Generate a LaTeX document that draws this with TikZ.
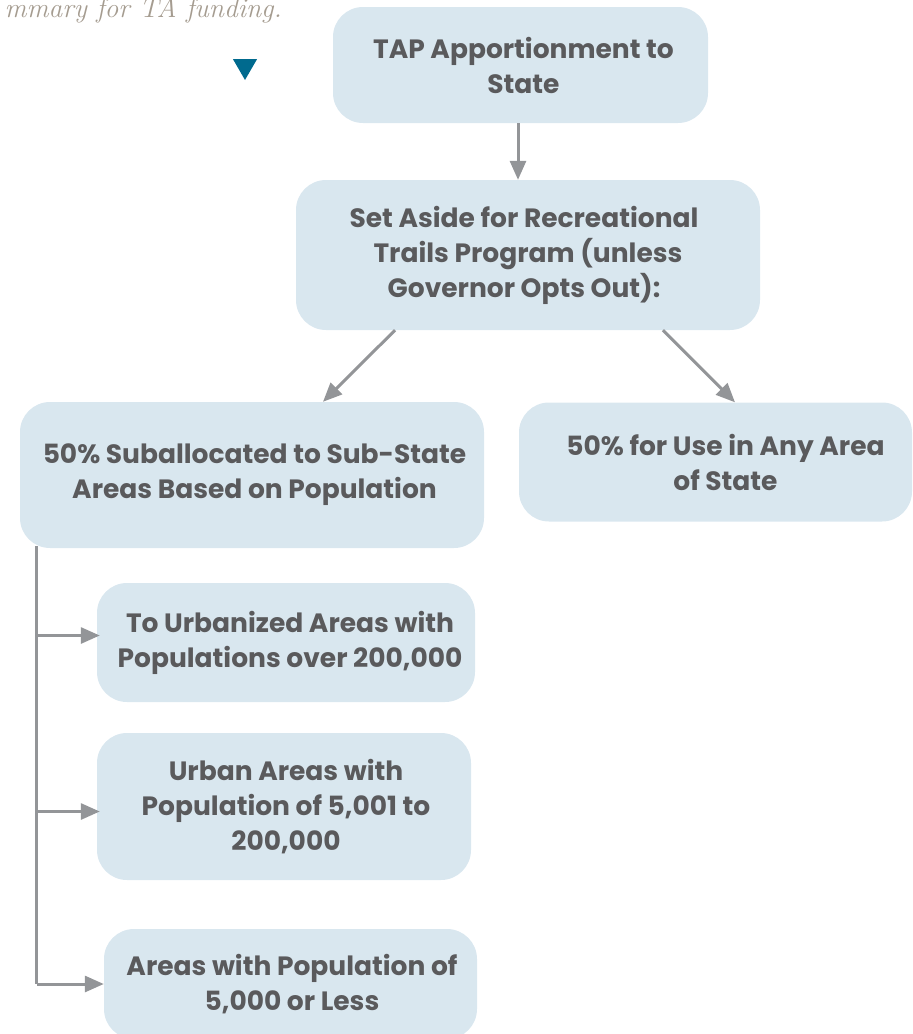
\documentclass[tikz,border=0pt]{standalone}
\usepackage{fontspec}
\setmainfont{Poppins}
\newfontfamily\titlefont{Latin Modern Roman}
\usetikzlibrary{arrows.meta,shapes.geometric}
\definecolor{boxfill}{HTML}{D9E7EF}
\definecolor{txt}{HTML}{5A5A5C}
\definecolor{arrgray}{HTML}{939598}
\definecolor{tri}{HTML}{006A8E}
\definecolor{titlegray}{HTML}{A59C90}
\begin{document}
\begin{tikzpicture}[x=1pt,y=-1pt,
  box/.style={fill=boxfill, rounded corners=30pt, align=center, text=txt,
    font=\fontsize{26.5}{35}\selectfont\bfseries, inner sep=0pt},
  arr/.style={draw=arrgray, line width=3pt, -{Triangle[length=19pt,width=16pt]}},
  lin/.style={draw=arrgray, line width=3pt}]
\useasboundingbox (0,0) rectangle (913,1034);
\clip (0,0) rectangle (913,1034);
\node[anchor=base east, text=titlegray, font=\titlefont\itshape\fontsize{27.5}{32}\selectfont, inner sep=0pt] (title) at (282,17) {mmary for TA funding.};
\node[isosceles triangle, shape border rotate=-90, isosceles triangle apex angle=60, fill=tri, minimum width=24pt, minimum height=21pt, inner sep=0pt] (mark) at (245,66) {};
\node[box, minimum width=375pt, minimum height=116pt] (tap) at (520.5,65) {\hspace*{6pt}TAP Apportionment to\\\hspace*{6pt}State};
\node[box, minimum width=464pt, minimum height=150pt] (set) at (528,255) {Set Aside for Recreational\hspace*{8pt}\\Trails Program (unless\hspace*{8pt}\\Governor Opts Out):\hspace*{8pt}};
\node[box, minimum width=464pt, minimum height=146pt] (sub) at (252,475) {\hspace*{5pt}50\% Suballocated to Sub-State\\\hspace*{5pt}Areas Based on Population};
\node[box, minimum width=393pt, minimum height=119pt] (any) at (715.5,462) {\hspace*{20pt}50\% for Use in Any Area\\\hspace*{20pt}of State};
\node[box, minimum width=378pt, minimum height=119pt] (urb) at (286,642.5) {\hspace*{8pt}To Urbanized Areas with\\\hspace*{8pt}Populations over 200,000};
\node[box, minimum width=374pt, minimum height=147pt] (urban) at (284,806.5) {\hspace*{4pt}Urban Areas with\\\hspace*{4pt}Population of 5,001 to\\\hspace*{4pt}200,000};
\node[box, minimum width=373pt, minimum height=110pt] (low) at (290.5,984) {\hspace*{3pt}Areas with Population of\\\hspace*{3pt}5,000 or Less};
\draw[arr] ([xshift=-2.5]tap.south) -- ([xshift=-10]set.north);
\draw[arr] ([xshift=-133]set.south) -- ([xshift=71]sub.north);
\draw[arr] ([xshift=135]set.south) -- ([xshift=19.5]any.north);
\coordinate (trunk) at ([xshift=17,yshift=2]sub.south west);
\draw[lin] (trunk) -- (trunk |- low.west);
\draw[arr] ([yshift=7]urb.west -| trunk) -- ([xshift=3,yshift=7]urb.west);
\draw[arr] ([yshift=-5]urban.west -| trunk) -- ([xshift=3,yshift=-5]urban.west);
\draw[arr] (trunk |- low.west) -- (low.west);
\end{tikzpicture}
\end{document}
